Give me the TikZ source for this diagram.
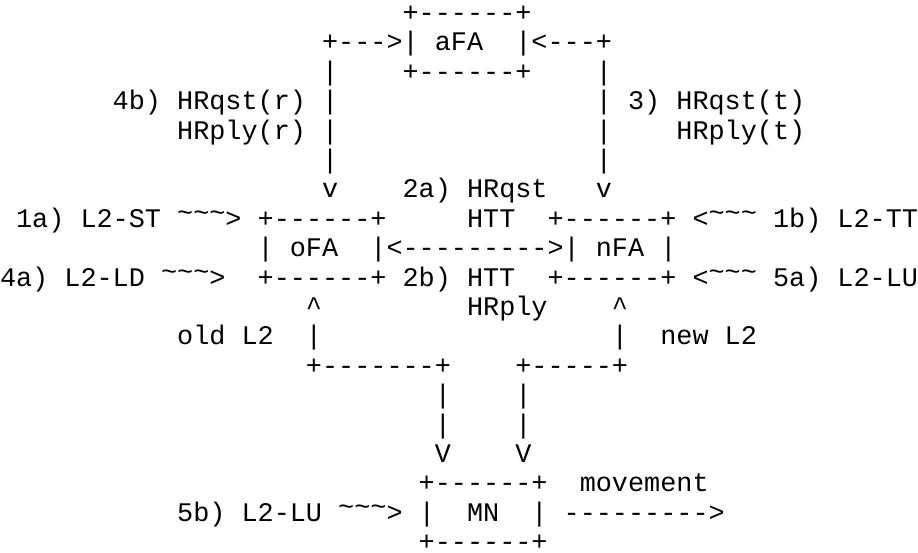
\documentclass[tikz,border=0pt]{standalone}
\usepackage{fontspec}
\setmonofont{Liberation Mono}
\newcommand{\tld}{\raisebox{5.5pt}{\char"7E}}
\newcommand{\crt}{\char"5E}
\tikzset{
  txt/.style={anchor=base west, inner sep=0pt, outer sep=0pt,
    font=\ttfamily\fontsize{26.84pt}{30pt}\selectfont, text=black}
}
% #1 name, #2 column, #3 line, #4 text
\newcommand{\at}[4]{\node[txt] (#1) at ({#2*16.105pt},{-21.5pt-(#3-1)*29.4pt}) {#4};}
\begin{document}
\begin{tikzpicture}
\useasboundingbox[fill=white] (0,0) rectangle (918pt,-552pt);
% line 1
\at{aFAtop}{25}{1}{+------+}
% line 2
\at{aFAmid}{20}{2}{+--->| aFA}
\at{aFAright}{32}{2}{|<---+}
% line 3
\at{lv3}{20}{3}{|}
\at{aFAbot}{25}{3}{+------+}
\at{rv3}{37}{3}{|}
% line 4
\at{lbl4b}{7}{4}{4b) HRqst(r) |}
\at{lbl3}{37}{4}{| 3) HRqst(t)}
% line 5
\at{lbl4bb}{11}{5}{HRply(r) |}
\at{rv5}{37}{5}{|}
\at{lbl3b}{42}{5}{HRply(t)}
% line 6
\at{lv6}{20}{6}{|}
\at{rv6}{37}{6}{|}
% line 7
\at{lv7}{20}{7}{v}
\at{lbl2a}{25}{7}{2a) HRqst}
\at{rv7}{37}{7}{v}
% line 8
\at{lbl1a}{1}{8}{1a) L2-ST \tld\tld\tld> +------+}
\at{lbl2ab}{29}{8}{HTT}
\at{lbl1b}{34}{8}{+------+ <\tld\tld\tld{} 1b) L2-TT}
% line 9
\at{oFA}{16}{9}{| oFA}
\at{link}{23}{9}{|<--------->| nFA}
\at{nFAr}{41}{9}{|}
% line 10
\at{lbl4a}{0}{10}{4a) L2-LD \tld\tld\tld>}
\at{lbl2b}{16}{10}{+------+ 2b) HTT}
\at{lbl5a}{34}{10}{+------+ <\tld\tld\tld{} 5a) L2-LU}
% line 11
\at{lup11}{19}{11}{\crt}
\at{lbl2bb}{29}{11}{HRply}
\at{rup11}{38}{11}{\crt}
% line 12
\at{oldL}{11}{12}{old L2}
\at{lv12}{19}{12}{|}
\at{rv12}{38}{12}{|}
\at{newL}{41}{12}{new L2}
% line 13
\at{lh13}{19}{13}{+-------+}
\at{rh13}{32}{13}{+-----+}
% line 14-16
\at{lv14}{27}{14}{|}
\at{rv14}{32}{14}{|}
\at{lv15}{27}{15}{|}
\at{rv15}{32}{15}{|}
\at{lV16}{27}{16}{V}
\at{rV16}{32}{16}{V}
% line 17
\at{MNtop}{26}{17}{+------+}
\at{mov}{36}{17}{movement}
% line 18
\at{lbl5b}{11}{18}{5b) L2-LU \tld\tld\tld> |}
\at{MN}{29}{18}{MN}
\at{movarrow}{33}{18}{| --------->}
% line 19
\at{MNbot}{26}{19}{+------+}
\end{tikzpicture}
\end{document}
